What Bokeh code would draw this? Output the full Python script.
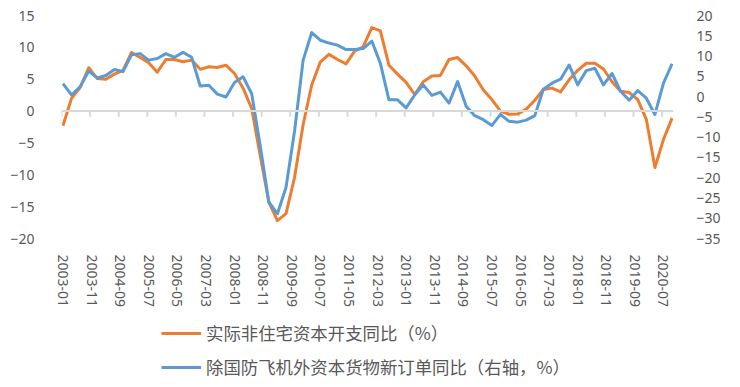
from bokeh.plotting import figure
from bokeh.layouts import column
from bokeh.models import (Range1d, LinearAxis, FixedTicker, Span, Legend, LegendItem,
                          ColumnDataSource)
from bokeh.embed import file_html
from bokeh.resources import INLINE

# ---------------- data ----------------
years = list(range(2003, 2021))
months = [f"{y}-{m:02d}" for y in years for m in range(1, 13)][:214]   # 2003-01 .. 2020-10
tick_idx = list(range(0, 214, 10))
tick_labels = [months[i] for i in tick_idx]

# quarterly observations, placed on the monthly category axis
x_idx = list(range(0, 214, 3))

capex_yoy = [-2.3, 2.0, 3.7, 6.8, 5.1, 5.0, 5.8, 6.4, 9.2, 8.4,
             7.6, 6.1, 8.1, 8.1, 7.75, 8.0, 6.55, 6.95, 6.85, 7.2,
             5.9, 3.6, 0.4, -7.0, -14.3, -17.2, -16.1, -10.4, -2.1, 4.1,
             7.7, 8.9, 8.1, 7.4, 9.4, 10.1, 13.1, 12.6, 7.2, 5.8,
             4.5, 2.6, 4.6, 5.5, 5.6, 8.1, 8.4, 7.1, 5.5, 3.3,
             1.8, 0.0, -0.5, -0.45, 0.3, 1.7, 3.4, 3.6, 3.0, 4.9,
             6.4, 7.5, 7.5, 6.6, 4.6, 3.1, 2.9, 1.8, -1.3, -8.85,
             -4.45, -1.1]

orders_yoy = [3.2, 0.4, 2.4, 6.3, 4.6, 5.2, 6.7, 6.15, 10.3, 10.6,
              9.0, 9.4, 10.6, 9.7, 10.9, 9.7, 2.6, 2.8, 0.6, -0.1,
              3.45, 4.9, 0.7, -12.2, -26.0, -28.9, -22.4, -8.5, 9.0, 15.8,
              13.9, 13.2, 12.7, 11.6, 11.6, 11.85, 13.7, 8.2, -0.8, -0.8,
              -2.8, 0.4, 2.9, 0.3, 1.1, -1.6, 3.7, -2.4, -4.7, -5.7,
              -7.1, -4.4, -6.1, -6.3, -5.8, -4.7, 1.8, 3.3, 4.3, 7.8,
              2.9, 6.4, 7.0, 2.9, 5.7, 1.3, -0.9, 1.5, -0.4, -4.4,
              3.3, 8.1]

left_ticks = [-20, -15, -10, -5, 0, 5, 10, 15]
right_ticks = [-35, -30, -25, -20, -15, -10, -5, 0, 5, 10, 15, 20]

label_orange = "实际非住宅资本开支同比（%）"
label_blue = "除国防飞机外资本货物新订单同比（右轴，%）"

ORANGE = "#ED7D31"
BLUE = "#5B9BD5"
GRAY_TXT = "#595959"
GRAY_AX = "#D9D9D9"

# ---------------- main chart ----------------
p = figure(width=740, height=310, output_backend="svg", toolbar_location=None,
           x_range=Range1d(-0.5, 213.5), y_range=Range1d(-20, 15),
           min_border_left=61, min_border_right=67, min_border_top=15,
           min_border_bottom=70)
p.outline_line_color = None
p.background_fill_color = "white"
p.border_fill_color = "white"
p.grid.visible = False
p.extra_y_ranges = {"right": Range1d(-35, 20)}

xa = p.xaxis[0]
xa.ticker = FixedTicker(ticks=tick_idx)
xa.major_label_overrides = {i: lab for i, lab in zip(tick_idx, tick_labels)}
xa.major_label_orientation = "vertical"
xa.axis_line_color = None
xa.major_tick_line_color = None
xa.minor_tick_line_color = None
xa.major_label_standoff = 10
xa.major_label_text_font = "Noto Sans"
xa.major_label_text_font_size = "14px"
xa.major_label_text_color = GRAY_TXT

ya = p.yaxis[0]
ya.ticker = FixedTicker(ticks=left_ticks)
ya.axis_line_color = None
ya.major_tick_line_color = None
ya.minor_tick_line_color = None
ya.major_label_standoff = 21
ya.major_label_text_font = "Noto Sans"
ya.major_label_text_font_size = "14px"
ya.major_label_text_color = GRAY_TXT

ra = LinearAxis(y_range_name="right", ticker=FixedTicker(ticks=right_ticks))
ra.axis_line_color = None
ra.major_tick_line_color = None
ra.minor_tick_line_color = None
ra.major_label_standoff = 17
ra.major_label_text_font = "Noto Sans"
ra.major_label_text_font_size = "14px"
ra.major_label_text_color = GRAY_TXT
p.add_layout(ra, "right")

# category axis line crossing at 0 with tick marks at category boundaries
p.add_layout(Span(location=0, dimension="width", line_color=GRAY_AX, line_width=2))
bx = [i - 0.5 for i in tick_idx]
p.segment(x0=bx, y0=[0] * len(bx), x1=bx, y1=[-0.88] * len(bx),
          line_color=GRAY_AX, line_width=2)

src = ColumnDataSource(dict(x=x_idx, capex=capex_yoy, orders=orders_yoy))
p.line("x", "capex", source=src, line_color=ORANGE, line_width=3, line_join="round")
p.line("x", "orders", source=src, line_color=BLUE, line_width=3, line_join="round",
       y_range_name="right")

# ---------------- legend strip ----------------
lg = figure(width=740, height=77, output_backend="svg", toolbar_location=None,
            x_range=Range1d(0, 740), y_range=Range1d(0, 77),
            x_axis_location=None, y_axis_location=None,
            min_border_left=0, min_border_right=0, min_border_top=0, min_border_bottom=0)
lg.outline_line_color = None
lg.grid.visible = False
lg.background_fill_color = "white"
lg.border_fill_color = "white"
# swatch renderers (kept off-screen; only their legend glyphs are seen)
k1 = lg.line([-20, -10], [-20, -20], line_color=ORANGE, line_width=3)
k2 = lg.line([-20, -10], [-20, -20], line_color=BLUE, line_width=3)

legend = Legend(items=[LegendItem(label=label_orange, renderers=[k1]),
                       LegendItem(label=label_blue, renderers=[k2])],
                location=(100, 8), orientation="vertical",
                glyph_width=40, glyph_height=20, label_height=20, spacing=9,
                label_standoff=5, padding=0, margin=0,
                border_line_color=None, background_fill_alpha=0,
                label_text_font="Noto Sans CJK SC", label_text_font_size="17.4px",
                label_text_color=GRAY_TXT, label_text_baseline="middle")
lg.add_layout(legend, "center")

page = column(p, lg, spacing=0)
open("out.html", "w").write(file_html(page, INLINE))
